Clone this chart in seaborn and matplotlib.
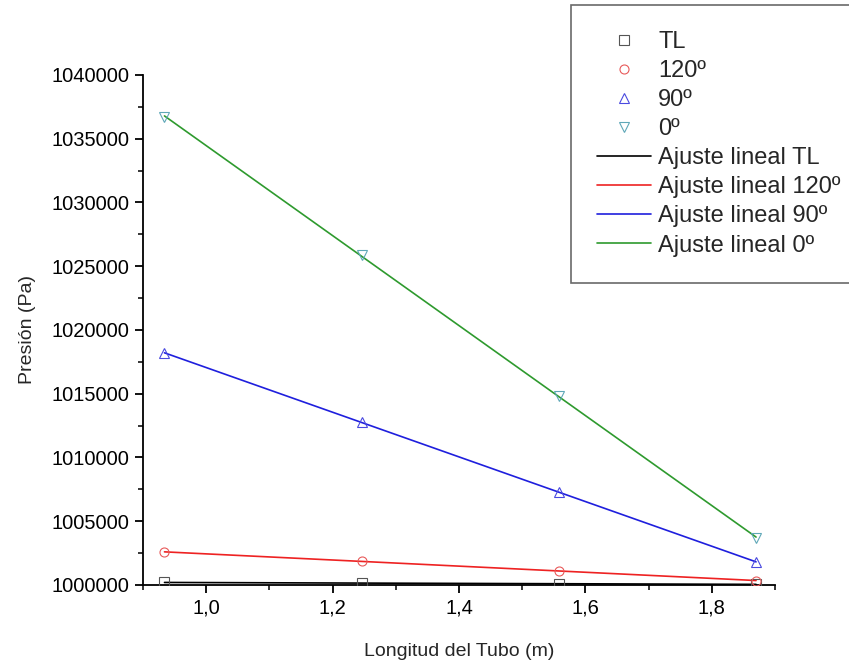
import numpy as np
import pandas as pd
import matplotlib
matplotlib.use("Agg")
import matplotlib.pyplot as plt
import seaborn as sns

# ---- data ----
longitud = [0.934, 1.246, 1.558, 1.870]
p_tl = [1000200, 1000150, 1000100, 1000050]
p_120 = [1002600, 1001850, 1001100, 1000350]
p_90 = [1018200, 1012750, 1007300, 1001800]
p_0 = [1036700, 1025900, 1014800, 1003700]
series_labels = ["TL", "120º", "90º", "0º"]
fit_labels = ["Ajuste lineal TL", "Ajuste lineal 120º", "Ajuste lineal 90º", "Ajuste lineal 0º"]
x_ticks = [1.0, 1.2, 1.4, 1.6, 1.8]
x_ticklabels = ["1,0", "1,2", "1,4", "1,6", "1,8"]
y_ticks = [1000000, 1005000, 1010000, 1015000, 1020000, 1025000, 1030000, 1035000, 1040000]

sns.set_theme(style="ticks")
plt.rcParams["font.family"] = ["Liberation Sans", "DejaVu Sans"]

fig = plt.figure(figsize=(8.49, 6.66), dpi=100)
ax = fig.add_axes([143 / 849, 1 - 585 / 666, (775 - 143) / 849, (585 - 75) / 666])

marker_colors = ["#555555", "#e85a5a", "#4a4ae0", "#5fa8b8"]
line_colors = ["#000000", "#ee2222", "#1f1fdd", "#2e9a2e"]
markers = ["s", "o", "^", "v"]
all_p = [p_tl, p_120, p_90, p_0]

marker_handles = []
line_handles = []
for i, p in enumerate(all_p):
    df = pd.DataFrame({"x": longitud, "y": p})
    sns.regplot(data=df, x="x", y="y", ax=ax, scatter=False, ci=None, truncate=True,
                line_kws=dict(color=line_colors[i], lw=1.2, label=fit_labels[i]))
    line_handles.append(ax.lines[-1])
for i, p in enumerate(all_p):
    df = pd.DataFrame({"x": longitud, "y": p})
    sns.lineplot(data=df, x="x", y="y", ax=ax, linestyle="", marker=markers[i],
                 markersize=6.5, markerfacecolor="none", markeredgecolor=marker_colors[i],
                 markeredgewidth=0.8, color=marker_colors[i], label=series_labels[i],
                 legend=False, zorder=5)
    marker_handles.append(ax.lines[-1])

ax.set_xlim(0.9, 1.9)
ax.set_ylim(1000000, 1040000)
ax.set_xticks(x_ticks)
ax.set_xticklabels(x_ticklabels)
ax.set_xticks([0.9, 1.1, 1.3, 1.5, 1.7, 1.9], minor=True)
ax.set_yticks(y_ticks)
ax.set_yticklabels([str(v) for v in y_ticks])
ax.set_yticks(np.arange(1002500, 1040000, 5000), minor=True)
ax.tick_params(axis="both", which="major", direction="out", length=6, width=1.3,
               labelsize=14.5, colors="black", pad=4)
ax.tick_params(axis="both", which="minor", direction="out", length=3.5, width=1.3)
for s in ["top", "right"]:
    ax.spines[s].set_visible(False)
for s in ["left", "bottom"]:
    ax.spines[s].set_linewidth(1.3)
    ax.spines[s].set_color("black")

ax.set_xlabel("Longitud del Tubo (m)", fontsize=14, labelpad=18)
ax.set_ylabel("Presión (Pa)", fontsize=14, labelpad=11)

leg = fig.legend(marker_handles + line_handles, series_labels + fit_labels,
                 loc="upper left", bbox_to_anchor=(571 / 849, 1 - 5 / 666),
                 fontsize=17, frameon=True, fancybox=False, handlelength=2.3,
                 handletextpad=0.3, labelspacing=0.3, borderpad=1.1,
                 borderaxespad=0)
leg.get_frame().set_edgecolor("#444444")
leg.get_frame().set_linewidth(1.2)

fig.savefig("out.png", dpi=100)
